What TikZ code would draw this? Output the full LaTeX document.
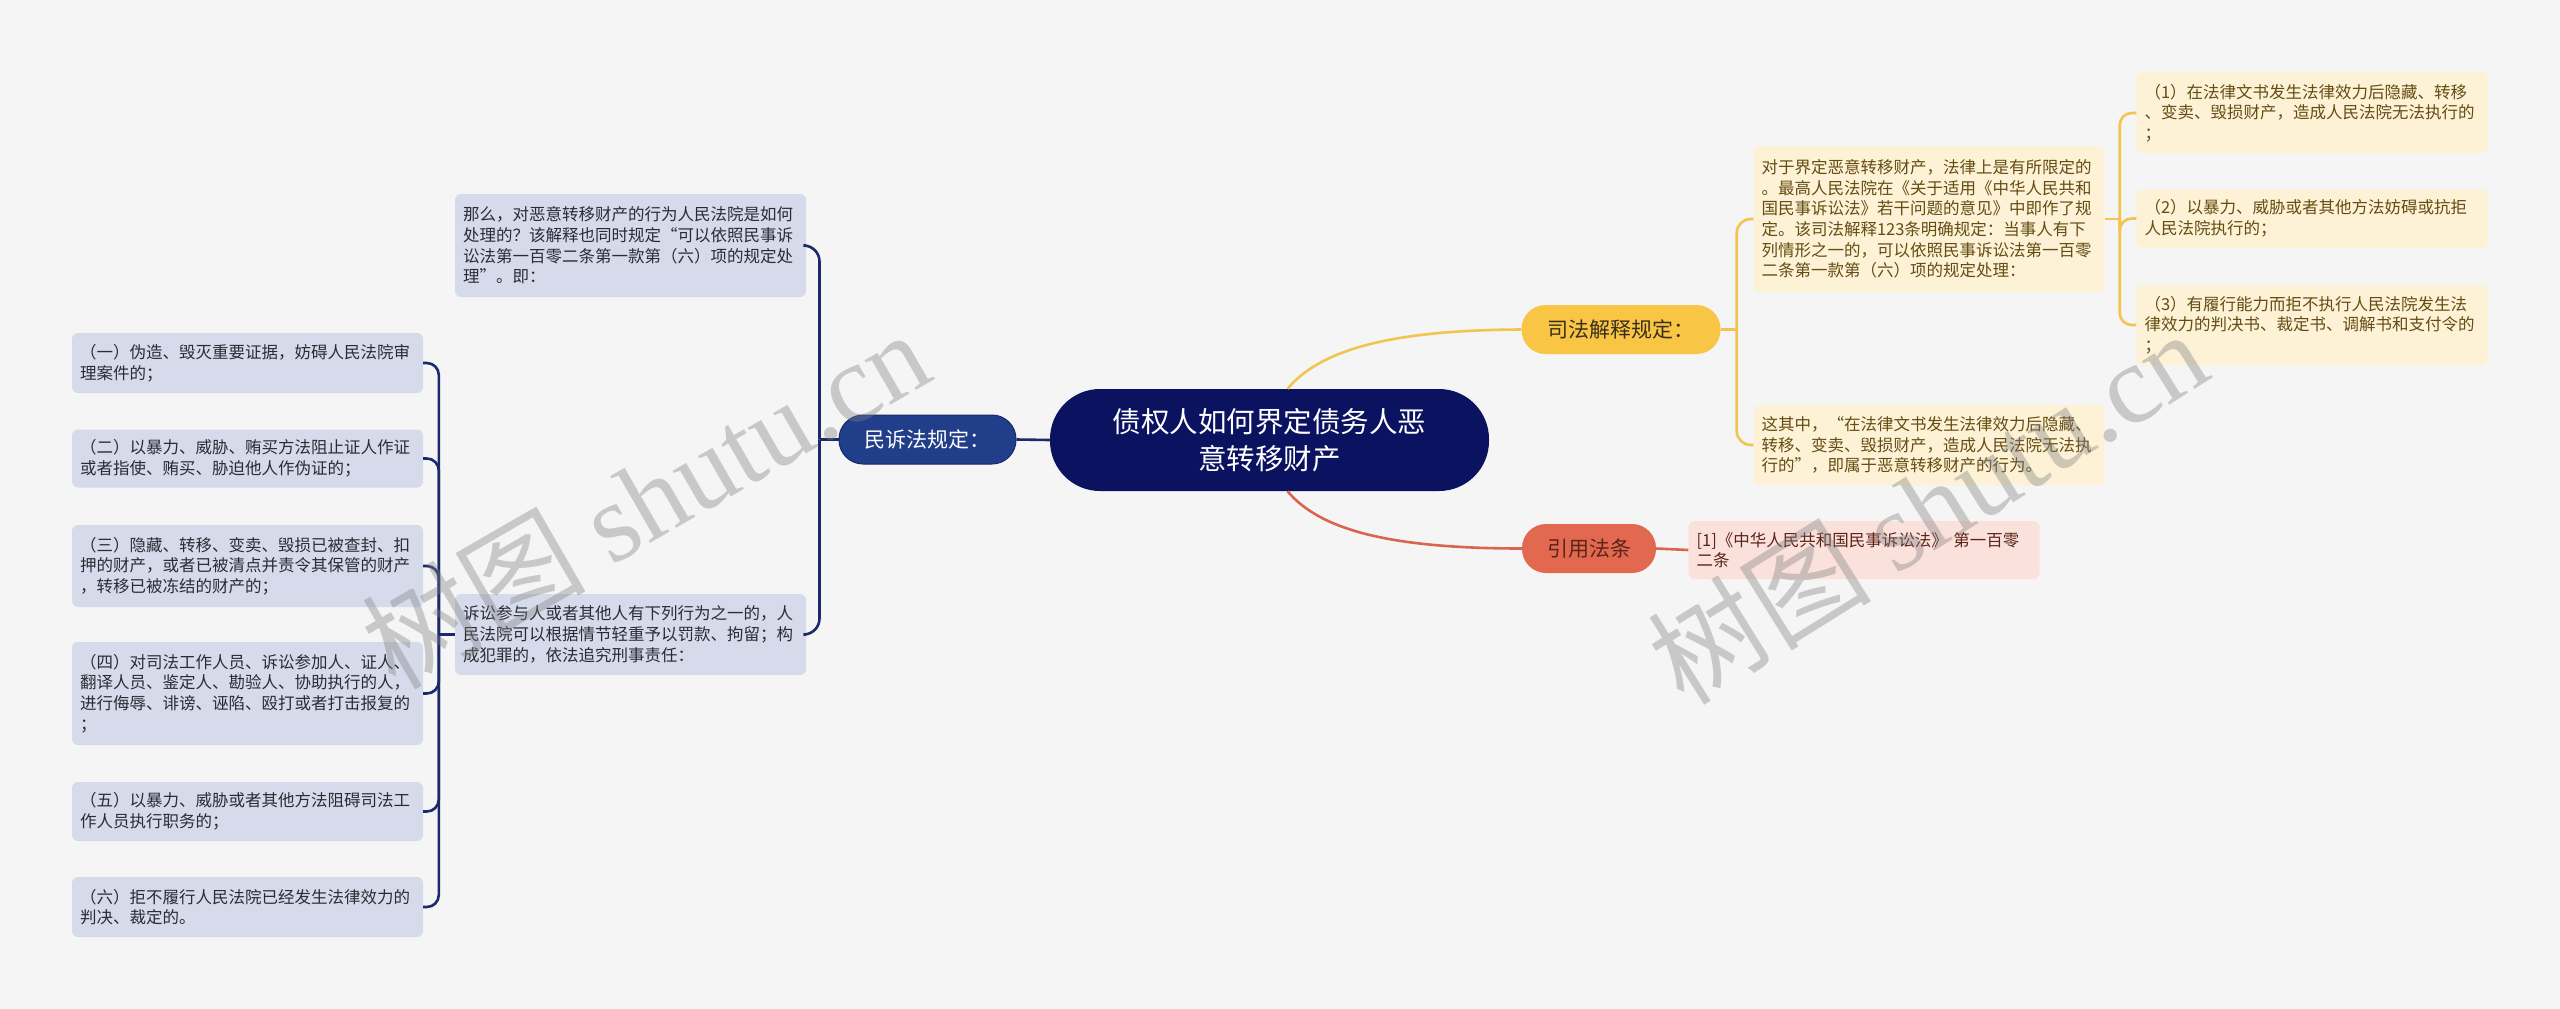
\documentclass[tikz,border=0pt]{standalone}
\usepackage{fontspec}
\setmainfont{Noto Sans CJK SC}
\newfontfamily\wmlatin{Liberation Serif}
\usetikzlibrary{calc}
\definecolor{bg}{HTML}{F5F5F5}
\definecolor{navy}{HTML}{0B1360}
\definecolor{msblue}{HTML}{213E8B}
\definecolor{navyline}{HTML}{1B2A6B}
\definecolor{bluefill}{HTML}{D6DBEB}
\definecolor{bluetext}{HTML}{2B2B33}
\definecolor{yelnode}{HTML}{F8C545}
\definecolor{yelline}{HTML}{F2C450}
\definecolor{yelfill}{HTML}{FDF2D6}
\definecolor{yeltext}{HTML}{654C12}
\definecolor{rednode}{HTML}{E2694F}
\definecolor{redline}{HTML}{D8654D}
\definecolor{redfill}{HTML}{FBE1DC}
\definecolor{redtext}{HTML}{5A2418}
\definecolor{nodetext}{HTML}{3A2F1A}
\begin{document}
\begin{tikzpicture}[x=1pt,y=-1pt,
  every node/.style={font=\fontsize{16.5}{20.7}\selectfont},
  box/.style={rectangle, rounded corners=6, text width=335, inner xsep=8, inner ysep=0, align=left},
  bluebox/.style={box, fill=bluefill, text=bluetext},
  yelbox/.style={box, fill=yelfill, text=yeltext},
  redbox/.style={box, fill=redfill, text=redtext},
  lvlone/.style={rectangle, rounded corners=24, minimum height=49, inner sep=0, font=\fontsize{21}{25}\selectfont},
  ctrnode/.style={rectangle, rounded corners=50, fill=navy, text=white, minimum width=439, minimum height=102, align=center, inner sep=0, font=\fontsize{28.5}{37.5}\selectfont},
  navyl/.style={draw=navyline, line width=2.6},
  yell/.style={draw=yelline, line width=2.6},
  redl/.style={draw=redline, line width=2.6},
  wm/.style={text=gray, opacity=0.38, font=\fontsize{112}{120}\selectfont, inner sep=0}
]
\useasboundingbox (0,0) rectangle (2560,1009);
\fill[bg] (0,0) rectangle (2560,1009);

% central and first level
\node[ctrnode] (c) at (1269.5,440) {债权人如何界定债务人恶\\意转移财产};
\node[lvlone, fill=msblue, draw=navyline, line width=1, text=white, minimum width=177] (ms) at (927.5,439.5) {民诉法规定：};
\node[lvlone, fill=yelnode, text=nodetext, minimum width=199] (sf) at (1621,329.5) {司法解释规定：};
\node[lvlone, fill=rednode, text=redtext, minimum width=134] (yy) at (1589,548.5) {引用法条};

% left side
\node[bluebox, minimum height=103] (A) at (630.5,245.5) {那么，对恶意转移财产的行为人民法院是如何\\处理的？该解释也同时规定“可以依照民事诉\\讼法第一百零二条第一款第（六）项的规定处\\理”。即：};
\node[bluebox, minimum height=81] (B) at (630.5,634.5) {诉讼参与人或者其他人有下列行为之一的，人\\民法院可以根据情节轻重予以罚款、拘留；构\\成犯罪的，依法追究刑事责任：};
\node[bluebox, minimum height=60] (L1) at (247.5,363) {（一）伪造、毁灭重要证据，妨碍人民法院审\\理案件的；};
\node[bluebox, minimum height=58] (L2) at (247.5,458.5) {（二）以暴力、威胁、贿买方法阻止证人作证\\或者指使、贿买、胁迫他人作伪证的；};
\node[bluebox, minimum height=82] (L3) at (247.5,566) {（三）隐藏、转移、变卖、毁损已被查封、扣\\押的财产，或者已被清点并责令其保管的财产\\，转移已被冻结的财产的；};
\node[bluebox, minimum height=103] (L4) at (247.5,693.5) {（四）对司法工作人员、诉讼参加人、证人、\\翻译人员、鉴定人、勘验人、协助执行的人，\\进行侮辱、诽谤、诬陷、殴打或者打击报复的\\；};
\node[bluebox, minimum height=59] (L5) at (247.5,811.5) {（五）以暴力、威胁或者其他方法阻碍司法工\\作人员执行职务的；};
\node[bluebox, minimum height=60] (L6) at (247.5,907) {（六）拒不履行人民法院已经发生法律效力的\\判决、裁定的。};

% right side
\node[yelbox, minimum height=146] (R0) at (1929,219) {对于界定恶意转移财产，法律上是有所限定的\\。最高人民法院在《关于适用《中华人民共和\\国民事诉讼法》若干问题的意见》中即作了规\\定。该司法解释123条明确规定：当事人有下\\列情形之一的，可以依照民事诉讼法第一百零\\二条第一款第（六）项的规定处理：};
\node[yelbox, minimum height=80] (R9) at (1929,445) {这其中，“在法律文书发生法律效力后隐藏、\\转移、变卖、毁损财产，造成人民法院无法执\\行的”，即属于恶意转移财产的行为。};
\node[yelbox, minimum height=81] (R1) at (2312,113) {（1）在法律文书发生法律效力后隐藏、转移\\、变卖、毁损财产，造成人民法院无法执行的\\；};
\node[yelbox, minimum height=58] (R2) at (2312,218.5) {（2）以暴力、威胁或者其他方法妨碍或抗拒\\人民法院执行的；};
\node[yelbox, minimum height=80] (R3) at (2312,325) {（3）有履行能力而拒不执行人民法院发生法\\律效力的判决书、裁定书、调解书和支付令的\\；};
\node[redbox, minimum height=58] (Q) at (1864,550) {[1]《中华人民共和国民事诉讼法》 第一百零\\二条};

% connectors left
\draw[navyl] (c.west) -- (ms.east);
\draw[navyl] (ms.west) -- ++(-19,0) coordinate (j1);
\draw[navyl, rounded corners=16] (j1) |- (A.east);
\draw[navyl, rounded corners=16] (j1) |- (B.east);
\draw[navyl] (B.west) -- ++(-16,0) coordinate (j2);
\foreach \n in {L1,L2,L3,L4,L5,L6}
  \draw[navyl, rounded corners=12] (j2) |- (\n.east);

% connectors right
\draw[yell] ([xshift=18]c.north) .. controls (1320,350) and (1390,330) .. (sf.west);
\draw[yell] (sf.east) -- ++(16,0) coordinate (j3);
\draw[yell, rounded corners=14] (j3) |- (R0.west);
\draw[yell, rounded corners=14] (j3) |- (R9.west);
\draw[yell] (R0.east) -- ++(15,0) coordinate (j4);
\foreach \n in {R1,R2,R3}
  \draw[yell, rounded corners=12] (j4) |- (\n.west);
\draw[redl] ([xshift=18]c.south) .. controls (1320,530) and (1390,548.5) .. (yy.west);
\draw[redl] (yy.east) -- (Q.west);

% watermarks
\node[wm, rotate=30] (wma) at (645,498) {树图 {\wmlatin shutu.cn}};
\node[wm, rotate=32] (wmb) at (1927,506) {树图 {\wmlatin shutu.cn}};
\end{tikzpicture}
\end{document}
